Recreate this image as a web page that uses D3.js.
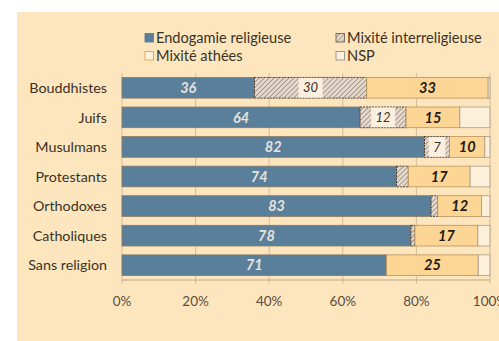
<!DOCTYPE html>
<html><head><meta charset="utf-8">
<script src="https://cdn.jsdelivr.net/npm/d3@7"></script>
<style>body{margin:0;background:#fff}svg{display:block}text{font-family:Lato,"Open Sans",sans-serif}</style>
</head><body>
<svg id="c" width="499" height="341"></svg>
<script>
const categories = ["Bouddhistes","Juifs","Musulmans","Protestants","Orthodoxes","Catholiques","Sans religion"];
const endogamie = [36, 64.7, 82.2, 74.6, 84, 78.5, 71.9];
const interreligieuse = [30.5, 12.5, 6.8, 3.2, 1.8, 1.1, 0];
const athees = [33, 14.6, 9.6, 16.8, 11.9, 17.1, 24.9];
const nsp = [0.5, 8.2, 1.4, 5.4, 2.3, 3.3, 3.2];
const labelsEndo = ["36","64","82","74","83","78","71"];
const labelsInter = ["30","12","7","","","",""];
const labelsAthees = ["33","15","10","17","12","17","25"];
const seriesNames = ["Endogamie religieuse","Mixité interreligieuse","Mixité athées","NSP"];
const xTicks = [0,20,40,60,80,100];

const svg = d3.select("#c");
svg.append("rect").attr("x",17).attr("y",12).attr("width",482).attr("height",329).attr("fill","#fde6be");

const defs = svg.append("defs");
const pat = defs.append("pattern").attr("id","hatch").attr("patternUnits","userSpaceOnUse")
  .attr("width",3.5).attr("height",3.5).attr("patternTransform","rotate(45)");
pat.append("rect").attr("width",3.5).attr("height",3.5).attr("fill","#e4d9cc");
pat.append("line").attr("x1",0).attr("y1",0).attr("x2",0).attr("y2",3.5).attr("stroke","#786a5e").attr("stroke-width",1.1);

const x = d3.scaleLinear().domain([0,100]).range([122,490]);
const y = d3.scaleBand().domain(categories).range([73,280]).paddingInner(0.3).paddingOuter(0.15);

svg.append("g").selectAll("line").data(xTicks).join("line")
  .attr("x1",d=>x(d)).attr("x2",d=>x(d)).attr("y1",73).attr("y2",284)
  .attr("stroke","#c9b18e").attr("stroke-width",0.8);
svg.append("line").attr("x1",x(0)).attr("x2",x(100)).attr("y1",280).attr("y2",280).attr("stroke","#b79d78").attr("stroke-width",0.9);

const data = categories.map((c,i)=>({c,vals:[endogamie[i],interreligieuse[i],athees[i],nsp[i]]}));
const fills = ["#5a7f9b","url(#hatch)","#fdd594","#fdf0da"];
const strokes = ["#8a7a66","#3a3028","#b8955e","#a89a88"];

const rows = svg.append("g").selectAll("g").data(data).join("g");
rows.each(function(d,i){
  const g = d3.select(this);
  let acc = 0;
  d.vals.forEach((v,k)=>{
    if(v<=0){return;}
    const r = g.append("rect").attr("x",x(acc)).attr("y",y(d.c)).attr("width",x(acc+v)-x(acc)).attr("height",y.bandwidth())
      .attr("fill",fills[k]).attr("stroke",strokes[k]).attr("stroke-width",k===1?0.9:0.8);
    if(k===1) r.attr("stroke-dasharray","2,1");
    const cx = x(acc+v/2), cy = y(d.c)+y.bandwidth()/2;
    if(k===0){
      g.append("text").attr("x",cx).attr("y",cy).attr("dy","0.36em").attr("text-anchor","middle")
        .attr("font-size",14.5).attr("font-weight","bold").attr("font-style","italic").attr("fill","#e6e2dc").text(labelsEndo[i]);
    } else if(k===1 && labelsInter[i]){
      const w = labelsInter[i].length*7.5+9;
      g.append("rect").attr("x",cx-w/2).attr("y",y(d.c)+0.5).attr("width",w).attr("height",y.bandwidth()-1).attr("fill","#fbefdf");
      g.append("text").attr("x",cx).attr("y",cy).attr("dy","0.36em").attr("text-anchor","middle")
        .attr("font-size",13).attr("font-style","italic").attr("fill","#3a3028").text(labelsInter[i]);
    } else if(k===2){
      g.append("text").attr("x",cx).attr("y",cy).attr("dy","0.36em").attr("text-anchor","middle")
        .attr("font-size",14.5).attr("font-weight","bold").attr("font-style","italic").attr("fill","#1e1a16").text(labelsAthees[i]);
    }
    acc += v;
  });
});

svg.append("g").selectAll("text").data(categories).join("text")
  .attr("x",107).attr("y",d=>y(d)+y.bandwidth()/2).attr("dy","0.36em").attr("text-anchor","end")
  .attr("font-size",14.3).attr("fill","#3b3225").text(d=>d);

svg.append("g").selectAll("text").data(xTicks).join("text")
  .attr("x",d=>x(d)).attr("y",301).attr("dy","0.36em").attr("text-anchor","middle")
  .attr("font-size",13.5).attr("fill","#5a4c3c").text(d=>d+"%");

const legPos = [[149,38],[340,38],[149,56],[340,56]];
const legFill = ["#5a7f9b","url(#hatch)","#fdf0da","#fdf0da"];
const legStroke = ["#5a7f9b","#6e6258","#e3a24f","#8f8f8f"];
const lg = svg.append("g").selectAll("g").data(seriesNames).join("g")
  .attr("transform",(d,i)=>`translate(${legPos[i][0]},${legPos[i][1]})`);
lg.append("rect").attr("x",-4).attr("y",-4.5).attr("width",8.5).attr("height",8.5)
  .attr("fill",(d,i)=>legFill[i]).attr("stroke",(d,i)=>legStroke[i]).attr("stroke-width",0.9);
lg.append("text").attr("x",7).attr("y",0).attr("dy","0.36em").attr("font-size",14.6).attr("fill","#3b3225").text(d=>d);
</script>
</body></html>
